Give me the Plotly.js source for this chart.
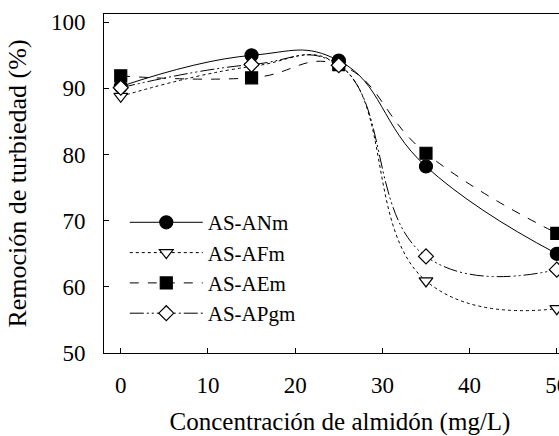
<!DOCTYPE html>
<html>
<head>
<meta charset="utf-8">
<script src="https://cdn.plot.ly/plotly-3.0.1.min.js"></script>
<style>html,body{margin:0;padding:0;background:#fff;overflow:hidden;width:559px;height:436px;}#chart{width:576px;height:436px;}</style>
</head>
<body>
<div id="chart"></div>
<script>
const concentracion = [0, 15, 25, 35, 50];
const seriesNames = ["AS-ANm", "AS-AFm", "AS-AEm", "AS-APgm"];
const valANm  = [90.3, 95.0, 94.2, 78.2, 65.0];
const valAFm  = [88.8, 93.3, 93.6, 60.9, 56.7];
const valAEm  = [91.9, 91.6, 93.6, 80.2, 68.1];
const valAPgm = [90.1, 93.6, 93.5, 64.6, 62.6];
const xTicks = [0, 10, 20, 30, 40, 50];
const yTicks = [50, 60, 70, 80, 90, 100];

const serifFamily = "Liberation Serif";
const styles = [
  {dash: "solid", symbol: "circle", size: 13, fill: "#000"},
  {dash: "dot", symbol: "triangle-down", size: 12, fill: "#fff"},
  {dash: "dash", symbol: "square", size: 12, fill: "#000"},
  {dash: "14px,3px,2px,3px,2px,3px", symbol: "diamond", size: 11.5, fill: "#fff"}
];
const values = [valANm, valAFm, valAEm, valAPgm];

const traces = values.map((v, i) => ({
  x: concentracion,
  y: v,
  name: seriesNames[i],
  type: "scatter",
  mode: "lines+markers",
  line: {color: "#000", width: 1, dash: styles[i].dash, shape: "spline", smoothing: 1.3},
  marker: {symbol: styles[i].symbol, size: styles[i].size, color: styles[i].fill,
           line: {color: "#000", width: 1.2}},
  cliponaxis: false
}));

const layout = {
  width: 576, height: 436,
  margin: {l: 104, r: 0, t: 14, b: 83},
  paper_bgcolor: "#fff", plot_bgcolor: "#fff",
  font: {family: serifFamily, size: 23, color: "#000"},
  showlegend: true,
  legend: {
    x: 0.044, y: 0.445, xanchor: "left", yanchor: "top",
    bgcolor: "rgba(0,0,0,0)", borderwidth: 0,
    font: {family: serifFamily, size: 21, color: "#000"},
    itemwidth: 73, tracegroupgap: 0
  },
  xaxis: {
    range: [-1.92, 52.2], tickmode: "array", tickvals: xTicks, ticktext: xTicks.map(String),
    ticks: "inside", ticklen: 5, tickwidth: 1, tickcolor: "#000",
    showline: true, linecolor: "#000", linewidth: 1, mirror: true,
    showgrid: false, zeroline: false, ticklabelstandoff: 11, ticklabeloverflow: "allow",
    tickfont: {family: serifFamily, size: 23, color: "#000"},
    title: {text: "Concentración de almidón (mg/L)", font: {family: serifFamily, size: 25, color: "#000"}, standoff: 18}
  },
  yaxis: {
    range: [50, 101.25], tickmode: "array", tickvals: yTicks, ticktext: yTicks.map(String),
    ticks: "inside", ticklen: 5, tickwidth: 1, tickcolor: "#000",
    showline: true, linecolor: "#000", linewidth: 1, mirror: false,
    showgrid: false, zeroline: false, ticklabelstandoff: 13,
    tickfont: {family: serifFamily, size: 23, color: "#000"},
    title: {text: "Remoción de turbiedad (%)", font: {family: serifFamily, size: 26, color: "#000"}, standoff: 16}
  }
};

Plotly.newPlot("chart", traces, layout, {displayModeBar: false});
</script>
</body>
</html>
